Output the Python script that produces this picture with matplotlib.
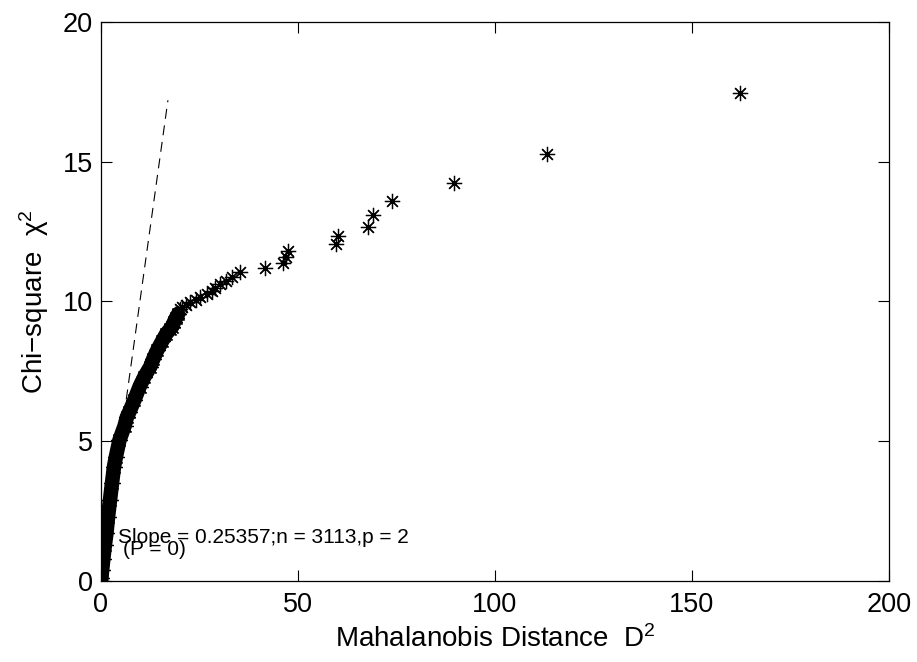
import matplotlib
matplotlib.use('Agg')
import matplotlib.pyplot as plt

plt.rcParams['font.family'] = ['Liberation Sans', 'DejaVu Sans']
plt.rcParams['mathtext.fontset'] = 'custom'
plt.rcParams['mathtext.rm'] = 'Liberation Sans'
plt.rcParams['mathtext.it'] = 'Liberation Sans:italic'

# sparse upper tail (D^2, chi-square quantile)
dist_tail = [162.1, 113.1, 89.5, 73.9, 69.1, 67.9, 60.2, 59.7, 47.5, 47.0,
             46.3, 41.7, 35.3, 33.3, 31.8, 30.2, 29.0, 28.2, 26.8, 25.2,
             24.0, 22.6, 21.6, 20.6, 20.0]
chi_tail = [17.47, 15.28, 14.25, 13.58, 13.08, 12.68, 12.35, 12.06, 11.81, 11.59,
            11.39, 11.21, 11.04, 10.89, 10.75, 10.61, 10.49, 10.37, 10.26, 10.16,
            10.06, 9.97, 9.88, 9.80, 9.72]

# dense body of the curve (centre of the black band)
dist_body = [19.6, 19.0, 18.5, 18.0, 17.5, 16.6, 15.6, 14.3, 13.3, 12.5,
             11.0, 9.8, 8.5, 7.2, 6.6, 6.0, 4.7, 3.8, 3.3, 2.8, 2.3, 1.8,
             1.4, 1.0, 0.6, 0.3, 0.1, 0.0]
chi_body = [9.55, 9.40, 9.25, 9.10, 9.00, 8.85, 8.60, 8.26, 7.95, 7.66,
            7.30, 6.95, 6.48, 6.05, 5.87, 5.55, 5.04, 4.45, 4.08, 3.50, 2.90, 2.30,
            1.72, 1.30, 0.80, 0.40, 0.10, 0.0]

# reference line and fit annotation
ref_x = [0, 17.0]
ref_y = [0, 17.2]
slope_txt = 'Slope = 0.25357;n = 3113,p = 2'
p_txt = '(P = 0)'

xticks = [0, 50, 100, 150, 200]
yticks = [0, 5, 10, 15, 20]

fig = plt.figure(figsize=(9.17, 6.62), dpi=100)
ax = fig.add_axes([0.1101, 0.1224, 0.8593, 0.8444])

star = (8, 2, 0)
ax.plot(ref_x, ref_y, color='black', lw=0.8, dashes=(9, 6), zorder=1)
ax.plot(dist_body, chi_body, color='black', lw=10.5, solid_capstyle='round',
        marker=star, markersize=12, mew=0.9, zorder=2)
ax.plot(dist_tail, chi_tail, ls='none', color='black',
        marker=star, markersize=11, mew=0.9, zorder=3)

ax.text(4.3, 1.57, slope_txt, fontsize=15, va='center', ha='left')
ax.text(5.6, 1.14, p_txt, fontsize=15, va='center', ha='left')

ax.set_xlim(0, 200)
ax.set_ylim(0, 20)
ax.set_xticks(xticks)
ax.set_yticks(yticks)
ax.tick_params(direction='in', length=8, width=0.8, top=True, right=True,
               labelsize=19.5)
ax.tick_params(axis='x', pad=8)
ax.tick_params(axis='y', pad=6)
for s in ax.spines.values():
    s.set_linewidth(0.9)

ax.set_xlabel('Mahalanobis Distance  D$^2$', fontsize=20, labelpad=5)
ax.set_ylabel('Chi\u2212square  \u03c7$^2$', fontsize=20, labelpad=8)

fig.savefig('out.png', dpi=100)
